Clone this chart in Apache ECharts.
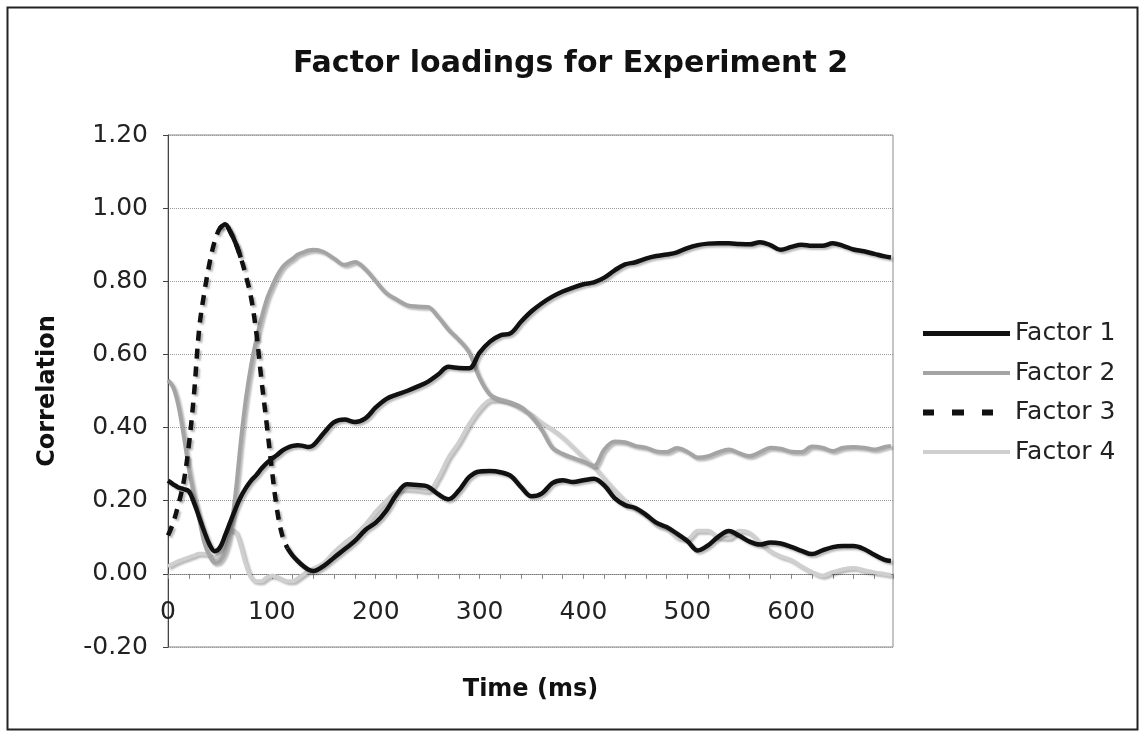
<!DOCTYPE html>
<html>
<head>
<meta charset="utf-8">
<script src="https://cdn.jsdelivr.net/npm/echarts@6/dist/echarts.min.js"></script>
<style>
  html, body { margin: 0; padding: 0; background: #fff; }
  #chart { width: 1141px; height: 733px; }
</style>
</head>
<body>
<div id="chart"></div>
<script>
// ---- data ----
const times = [0,5,10,15,20,25,30,35,40,45,50,55,60,65,70,75,80,85,90,95,100,105,110,115,120,125,130,135,140,
  150,160,170,180,190,200,210,220,230,240,250,260,270,280,290,300,310,320,330,340,350,360,370,380,390,400,
  410,420,430,440,450,460,470,480,490,500,510,520,530,540,550,560,570,580,590,600,610,620,630,640,650,660,
  670,680,690,696];

const factor1 = [0.255,0.245,0.236,0.232,0.226,0.195,0.155,0.115,0.080,0.062,0.072,0.105,0.142,0.178,0.210,0.235,0.255,0.270,0.288,0.303,0.315,0.325,0.337,0.345,0.350,0.352,0.350,0.347,0.352,
  0.385,0.415,0.422,0.415,0.425,0.455,0.478,0.490,0.500,0.512,0.525,0.545,0.566,0.563,0.562,0.605,0.635,0.652,0.658,0.690,0.718,0.740,0.758,0.772,0.783,0.792,
  0.797,0.810,0.830,0.846,0.852,0.862,0.869,0.873,0.879,0.891,0.899,0.903,0.904,0.904,0.902,0.901,0.907,0.899,0.886,0.894,0.900,0.897,0.897,0.904,0.897,0.887,
  0.882,0.875,0.868,0.865];

const factor2 = [0.530,0.510,0.460,0.380,0.290,0.215,0.150,0.085,0.050,0.030,0.035,0.060,0.115,0.220,0.360,0.480,0.570,0.640,0.700,0.750,0.785,0.815,0.838,0.852,0.862,0.873,0.879,0.884,0.886,
  0.880,0.862,0.845,0.853,0.833,0.800,0.768,0.750,0.735,0.731,0.730,0.703,0.668,0.640,0.605,0.535,0.490,0.476,0.468,0.456,0.430,0.393,0.345,0.328,0.317,0.307,
  0.295,0.340,0.362,0.360,0.350,0.345,0.335,0.333,0.344,0.334,0.318,0.322,0.333,0.340,0.330,0.322,0.333,0.345,0.342,0.334,0.333,0.348,0.345,0.336,0.345,0.347,
  0.345,0.340,0.347,0.350];

const factor3 = [0.105,0.140,0.190,0.250,0.350,0.490,0.670,0.770,0.850,0.910,0.945,0.956,0.935,0.905,0.865,0.815,0.755,0.660,0.530,0.410,0.285,0.175,0.105,0.070,0.050,0.035,0.022,0.012,0.008,
  0.022,0.045,0.067,0.090,0.120,0.140,0.172,0.217,0.245,0.243,0.239,0.218,0.204,0.228,0.265,0.280,0.281,0.278,0.268,0.237,0.212,0.220,0.248,0.256,0.251,0.256,
  0.260,0.242,0.207,0.188,0.180,0.162,0.140,0.128,0.110,0.090,0.064,0.078,0.102,0.117,0.104,0.088,0.080,0.086,0.083,0.074,0.063,0.054,0.064,0.073,0.076,0.076,
  0.068,0.052,0.038,0.035];

const factor4 = [0.020,0.028,0.035,0.040,0.045,0.050,0.055,0.055,0.050,0.045,0.060,0.090,0.120,0.115,0.075,0.025,-0.010,-0.020,-0.020,-0.010,-0.005,-0.008,-0.015,-0.020,-0.020,-0.012,-0.002,0.008,0.015,
  0.030,0.060,0.085,0.107,0.135,0.170,0.200,0.225,0.232,0.230,0.226,0.262,0.318,0.360,0.410,0.450,0.475,0.477,0.468,0.452,0.435,0.413,0.395,0.373,0.346,0.318,
  0.293,0.260,0.228,0.200,0.178,0.160,0.135,0.124,0.100,0.095,0.118,0.118,0.100,0.098,0.118,0.112,0.085,0.062,0.048,0.038,0.020,0.005,-0.005,0.005,0.013,0.016,
  0.010,0.004,0.000,-0.003];

const seriesNames = ['Factor 1', 'Factor 2', 'Factor 3', 'Factor 4'];
const titleText = 'Factor loadings for Experiment 2';
const xName = 'Time (ms)';
const yName = 'Correlation';

// ---- chart ----
const FONT = 'DejaVu Sans';
const Y_MIN = -0.2, Y_MAX = 1.2, GRID_H = 512;
function pairs(vals, from, to) {
  const out = [];
  for (let i = 0; i < vals.length; i++) {
    if (times[i] >= from && times[i] <= to) out.push([times[i], vals[i]]);
  }
  return out;
}
const shadow = { shadowColor: 'rgba(0,0,0,0.28)', shadowBlur: 2, shadowOffsetX: 2, shadowOffsetY: 2 };
function lineSeries(name, data, color, width, type, z) {
  return {
    name: name, type: 'line', data: data, showSymbol: false, symbol: 'none',
    smooth: 0.35, z: z, silent: true,
    lineStyle: Object.assign({ color: color, width: width, type: type, cap: 'butt', join: 'round' }, shadow),
    itemStyle: { color: color }
  };
}
const solidIcon5 = 'path://M0,0H87V5H0Z';
const solidIcon4 = 'path://M0,0.5H87V4.5H0Z';
const dashIcon = 'path://M0,0H11V6H0ZM29,0H41V6H29ZM59,0H70V6H59ZM86.9,2.95H87V3.05H86.9Z';

const chart = echarts.init(document.getElementById('chart'), null, { renderer: 'canvas' });
chart.setOption({
  backgroundColor: '#ffffff',
  animation: false,
  title: {
    text: titleText, left: 'center', top: 44,
    textStyle: { fontFamily: FONT, fontSize: 30, fontWeight: 'bold', color: '#111' }
  },
  graphic: [{
    type: 'rect', left: 5, top: 5, z: 100, silent: true,
    shape: { width: 1130, height: 722 },
    style: { fill: 'none', stroke: '#222', lineWidth: 2 }
  }],
  legend: {
    orient: 'vertical', left: 923, top: 321, padding: 0,
    itemWidth: 87, itemHeight: 6, itemGap: 14.5,
    symbolKeepAspect: true,
    textStyle: { fontFamily: FONT, fontSize: 25, lineHeight: 25, color: '#222' },
    data: [
      { name: seriesNames[0], icon: solidIcon5 },
      { name: seriesNames[1], icon: solidIcon4 },
      { name: seriesNames[2], icon: dashIcon },
      { name: seriesNames[3], icon: solidIcon4 }
    ],
    selectedMode: false
  },
  grid: {
    left: 168, top: 135, width: 725, height: GRID_H,
    outerBoundsMode: 'none', containLabel: false,
    show: true, borderColor: '#8a8a8a', borderWidth: 1, backgroundColor: '#fff'
  },
  xAxis: {
    type: 'value', min: 0, max: 698, interval: 100,
    // axis drawn on the 0 line (moved up from the bottom of the plot)
    offset: -GRID_H * (0 - Y_MIN) / (Y_MAX - Y_MIN),
    name: xName, nameLocation: 'middle', nameGap: 104,
    nameTextStyle: { fontFamily: FONT, fontSize: 24, fontWeight: 'bold', color: '#111' },
    axisLine: { show: true, onZero: false, lineStyle: { color: '#777', type: 'dotted', width: 1 } },
    axisTick: { show: true, length: 5, lineStyle: { color: '#888' } },
    minorTick: { show: true, splitNumber: 5, length: 5, lineStyle: { color: '#888' } },
    axisLabel: { fontFamily: FONT, fontSize: 25, color: '#222', margin: 26, showMaxLabel: false },
    splitLine: { show: false }
  },
  yAxis: {
    type: 'value', min: Y_MIN, max: Y_MAX, interval: 0.2,
    name: yName, nameLocation: 'middle', nameGap: 108, nameRotate: 90,
    nameTextStyle: { fontFamily: FONT, fontSize: 24, fontWeight: 'bold', color: '#111' },
    axisLine: { show: true, onZero: false, lineStyle: { color: '#444', width: 1 } },
    axisTick: { show: true, length: 5, lineStyle: { color: '#444' } },
    axisLabel: { fontFamily: FONT, fontSize: 25, color: '#222', margin: 20,
      formatter: v => v.toFixed(2) },
    splitLine: { show: true, lineStyle: { color: '#9a9a9a', type: 'dotted', width: 1 } }
  },
  series: [
    lineSeries(seriesNames[3], pairs(factor4, 0, 700), '#cfcfcf', 4, 'solid', 2),
    lineSeries(seriesNames[1], pairs(factor2, 0, 700), '#a4a4a4', 4, 'solid', 3),
    lineSeries(seriesNames[2], pairs(factor3, 0, 115), '#111111', 4.5, [10, 8], 4),
    lineSeries(seriesNames[2], pairs(factor3, 50, 70), '#111111', 4.5, 'solid', 4),
    lineSeries(seriesNames[2], pairs(factor3, 115, 700), '#111111', 4.5, 'solid', 4),
    lineSeries(seriesNames[0], pairs(factor1, 0, 700), '#111111', 4.5, 'solid', 5)
  ]
});
</script>
</body>
</html>
